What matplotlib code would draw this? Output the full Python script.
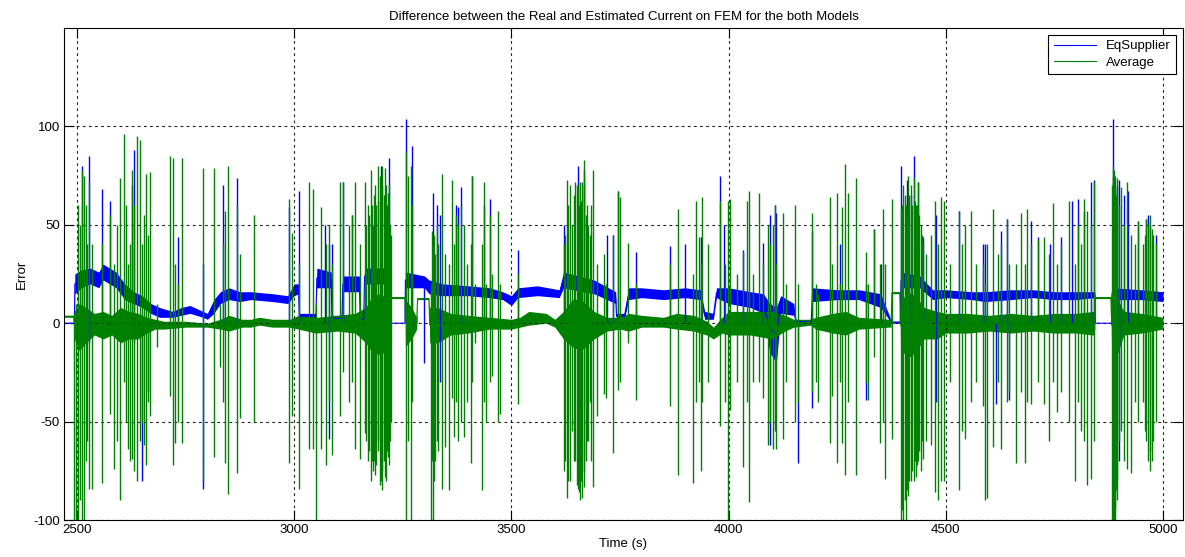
import numpy as np
import matplotlib.pyplot as plt
from matplotlib.lines import Line2D

##### data #####
# noisy band of each signal: (time, lower edge, upper edge)
eq_band = [
    (2470, 0, 0), (2494, 0, 0), (2495, 15, 25), (2510, 18, 27), (2530, 20, 28),
    (2550, 18, 26), (2560, 22, 30), (2575, 20, 28), (2590, 18, 26), (2610, 12, 20),
    (2630, 10, 16), (2650, 8, 14), (2670, 5, 10), (2690, 3, 8), (2720, 3, 6),
    (2740, 4, 8), (2760, 5, 9), (2790, 3, 6), (2800, 2, 5), (2815, 5, 12),
    (2830, 10, 16), (2850, 12, 18), (2875, 11, 16), (2900, 12, 16), (2950, 11, 15),
    (2985, 10, 14), (3000, 14, 20), (3010, 15, 20), (3012, 2, 5), (3050, 2, 5),
    (3052, 18, 28), (3085, 18, 26), (3087, 1, 4), (3110, 1, 4), (3112, 16, 24),
    (3150, 16, 24), (3152, 1, 3), (3160, 1, 3), (3162, 20, 28), (3222, 20, 28),
    (3223, 0, 0), (3255, 0, 0), (3256, 18, 26), (3300, 18, 24), (3310, 15, 22),
    (3340, 14, 20), (3400, 14, 19), (3450, 13, 18), (3480, 12, 16), (3500, 9, 14),
    (3515, 13, 18), (3560, 14, 19), (3610, 13, 17), (3620, 18, 26), (3690, 15, 22),
    (3740, 10, 16), (3742, 2, 5), (3760, 2, 5), (3770, 12, 18), (3800, 13, 18),
    (3850, 12, 17), (3900, 13, 18), (3935, 12, 17), (3945, 2, 6), (3965, 2, 5),
    (3972, 13, 18), (4000, 10, 18), (4050, 8, 16), (4080, 5, 15), (4095, -15, 10),
    (4110, -20, 8), (4120, 5, 14), (4150, 4, 10), (4155, 0, 2), (4190, 0, 1),
    (4193, 11, 18), (4250, 12, 17), (4300, 12, 17), (4350, 8, 15), (4375, 0, 1),
    (4395, 0, 1), (4397, 18, 26), (4440, 18, 24), (4470, 12, 17), (4500, 13, 17),
    (4560, 12, 16), (4590, 11, 16), (4650, 12, 17), (4700, 13, 17), (4750, 12, 16),
    (4800, 12, 16), (4843, 13, 16), (4844, 0, 0), (4882, 0, 0), (4883, 12, 18),
    (4950, 12, 17), (5000, 11, 16),
]

avg_band = [
    (2470, 3, 4), (2492, 3, 4), (2494, -8, 6), (2505, -14, 10), (2520, -10, 8),
    (2540, -6, 5), (2560, -8, 6), (2580, -6, 4), (2600, -10, 8), (2620, -8, 6),
    (2640, -8, 5), (2660, -5, 3), (2680, -3, 2), (2700, -3, 1), (2750, -2, 1),
    (2800, -2, 0), (2830, -3, 2), (2850, -4, 4), (2880, -2, 2), (2900, -2, 2),
    (2920, -1, 3), (2950, -2, 2), (2990, -2, 2), (3010, -3, 4), (3050, -5, 3),
    (3100, -4, 4), (3140, -5, 5), (3165, -10, 8), (3180, -15, 14), (3200, -16, 15),
    (3220, -12, 10), (3223, -6, 6), (3224, 12.5, 13.5), (3255, 12.5, 13.5),
    (3256, -12, 12), (3270, -8, 8), (3282, -3, 3), (3284, 12, 13), (3310, 12, 13),
    (3312, -10, 8), (3330, -10, 8), (3360, -6, 5), (3400, -5, 4), (3450, -3, 3),
    (3500, -3, 2), (3520, -2, 3), (3540, -1, 6), (3580, 0, 5), (3600, -2, 2),
    (3620, -8, 6), (3640, -12, 12), (3660, -14, 12), (3690, -8, 6), (3720, -4, 3),
    (3750, -3, 3), (3770, -4, 5), (3800, -2, 4), (3850, -2, 3), (3880, -3, 5),
    (3920, -4, 4), (3950, -6, 1), (3965, -8, -2), (3985, -5, 3), (4000, -6, 6),
    (4050, -6, 6), (4100, -8, 6), (4130, -4, 4), (4150, -2, 2), (4190, -1, 2),
    (4200, -3, 3), (4240, -5, 5), (4270, -6, 6), (4300, -3, 3), (4370, -2, 2),
    (4374, -2, 2), (4376, 15, 16), (4394, 15, 16), (4396, -12, 10), (4410, -18, 16),
    (4430, -15, 14), (4450, -8, 8), (4480, -8, 6), (4500, -5, 5), (4550, -5, 5),
    (4600, -4, 4), (4650, -5, 5), (4700, -4, 4), (4750, -5, 5), (4800, -5, 5),
    (4840, -6, 6), (4843, -3, 3), (4844, 12.5, 13.5), (4880, 12.5, 13.5),
    (4882, -20, 18), (4896, -15, 12), (4910, -6, 6), (4950, -5, 5), (5000, -3, 3),
]

# spikes: (time, min, max)
eq_spikes = [
    (2511, 0, 80), (2528, -10, 85), (2557, 0, 68), (2576, 0, 62), (2626, 0, 70),
    (2631, -10, 88), (2649, -80, 0), (2664, -35, 0), (2733, 0, 44), (2791, -84, 30),
    (2837, 0, 70), (2868, 0, 74), (2987, 0, 59), (3010, 0, 67), (3071, 0, 50),
    (3080, -59, 40), (3088, 0, 40), (3113, 0, 72), (3134, 0, 55), (3199, 0, 80),
    (3218, 0, 84), (3257, 0, 104), (3271, 0, 90), (3299, -20, 20), (3319, 0, 66),
    (3328, 0, 60), (3335, -30, 55), (3373, 0, 60), (3378, 0, 59), (3384, 0, 69),
    (3409, 0, 75), (3436, 0, 60), (3451, 0, 63), (3516, 0, 37), (3620, 0, 50),
    (3653, 0, 80), (3668, 0, 78), (3720, 0, 45), (3735, 0, 45), (3746, 0, 67),
    (3786, 0, 36), (3865, 0, 39), (3900, 0, 40), (3936, 0, 44), (3980, 0, 75),
    (3989, 0, 50), (4033, 0, 37), (4079, 0, 41), (4095, -62, 55), (4106, 0, 60),
    (4110, 0, 56), (4160, -71, 0), (4193, -43, 47), (4256, 0, 40), (4316, -39, 20),
    (4335, 0, 48), (4350, 0, 30), (4398, 0, 80), (4410, 0, 73), (4419, 0, 65),
    (4426, 0, 85), (4436, 0, 72), (4448, 0, 44), (4477, -40, 55), (4530, 0, 57),
    (4586, 0, 40), (4590, 0, 40), (4615, -41, 0), (4628, 0, 47), (4640, 0, 53),
    (4645, -39, 0), (4696, 0, 52), (4713, 0, 44), (4740, 0, 40), (4765, 0, 44),
    (4790, 0, 62), (4805, 0, 63), (4818, 0, 57), (4835, 0, 72), (4840, 0, 73),
    (4884, 0, 104), (4893, 0, 69), (4898, -70, 73), (4910, 0, 65), (4920, 0, 67),
    (4943, 0, 52), (4962, 0, 53), (4966, 0, 55), (4985, 0, 45),
]

avg_spikes = [
    (2493, -100, 5), (2498, -100, 10), (2503, -100, 60), (2506, -90, 50),
    (2511, -100, 78), (2515, -100, 75), (2520, -70, 60), (2524, -60, 40),
    (2528, -84, 72), (2534, -84, 40), (2557, -81, 40), (2576, -46, 55),
    (2584, -74, 30), (2592, -60, 50), (2599, -90, 74), (2607, -30, 96),
    (2612, -50, 60), (2618, -64, 30), (2622, -70, 40), (2626, -69, 78),
    (2632, -75, 60), (2639, -80, 95), (2645, -60, 93), (2650, -50, 40),
    (2654, -62, 55), (2659, -72, 76), (2663, -40, 45), (2668, -47, 77),
    (2683, -12, 10), (2713, -37, 85), (2722, -72, 84), (2726, -61, 30),
    (2733, -50, 20), (2741, -61, 84), (2791, -80, 79), (2815, -68, 79),
    (2829, -22, 10), (2837, -40, 40), (2841, -71, 57), (2848, -87, 80),
    (2868, -76, 60), (2875, -48, 35), (2908, -50, 55), (2987, -71, 63),
    (2994, -47, 46), (3010, -84, 30), (3033, -64, 72), (3043, -64, 68),
    (3050, -100, 10), (3062, -64, 59), (3073, -72, 40), (3080, -40, 50),
    (3088, -67, 30), (3106, -47, 72), (3113, -25, 72), (3127, -40, 50),
    (3134, -30, 55), (3140, -64, 72), (3152, -69, 40), (3163, -56, 72),
    (3166, -60, 50), (3170, -70, 60), (3173, -65, 55), (3176, -80, 78),
    (3179, -70, 60), (3182, -75, 50), (3184, -70, 65), (3186, -77, 70),
    (3189, -72, 60), (3192, -60, 80), (3194, -65, 62), (3197, -82, 75),
    (3199, -80, 70), (3201, -85, 80), (3203, -75, 70), (3206, -70, 65),
    (3208, -70, 60), (3210, -78, 79), (3212, -80, 70), (3214, -65, 60),
    (3216, -68, 66), (3218, -72, 70), (3220, -60, 50), (3222, -50, 45),
    (3257, -100, 87), (3263, -60, 75), (3268, -100, 80), (3271, -40, 60),
    (3315, -100, 20), (3317, -70, 47), (3319, -100, 40), (3322, -80, 45),
    (3325, -70, 35), (3328, -60, 50), (3331, -65, 40), (3340, -84, 76),
    (3348, -63, 35), (3357, -85, 30), (3363, -38, 73), (3368, -58, 40),
    (3373, -40, 55), (3378, -60, 50), (3384, -50, 60), (3390, -58, 50),
    (3397, -40, 30), (3407, -71, 40), (3409, -30, 75), (3417, -10, 20),
    (3433, -85, 40), (3436, -40, 72), (3442, -50, 20), (3451, -30, 55),
    (3455, -27, 25), (3470, -50, 57), (3474, -46, 20), (3516, -41, 25),
    (3620, -75, 40), (3623, -70, 45), (3627, -89, 73), (3630, -80, 60),
    (3635, -80, 70), (3640, -55, 50), (3644, -70, 65), (3647, -70, 72),
    (3650, -82, 70), (3653, -84, 70), (3656, -86, 60), (3658, -90, 72),
    (3661, -80, 62), (3663, -89, 72), (3666, -75, 70), (3668, -83, 83),
    (3671, -70, 55), (3674, -60, 60), (3677, -60, 50), (3680, -40, 45),
    (3684, -70, 60), (3687, -83, 78), (3697, -47, 30), (3712, -36, 35),
    (3718, -38, 20), (3735, -66, 45), (3746, -34, 67), (3749, -30, 64),
    (3769, -10, 41), (3786, -39, 20), (3865, -42, 30), (3884, -77, 58),
    (3918, -81, 25), (3924, -40, 62), (3932, -30, 44), (3936, -75, 30),
    (3939, -40, 64), (3953, -30, 40), (3980, -52, 62), (3992, -40, 30),
    (3999, -100, 62), (4003, -44, 63), (4020, -30, 25), (4033, -73, 36),
    (4043, -40, 62), (4046, -91, 67), (4055, -30, 25), (4070, -30, 66),
    (4079, -38, 30), (4090, -62, 50), (4095, -50, 40), (4102, -64, 50),
    (4106, -55, 60), (4110, -64, 30), (4125, -59, 56), (4133, -30, 20),
    (4152, -50, 60), (4160, -40, 20), (4192, -35, 56), (4201, -30, 20),
    (4206, -40, 15), (4233, -61, 64), (4237, -37, 30), (4250, -71, 66),
    (4256, -30, 20), (4262, -61, 59), (4269, -77, 81), (4275, -40, 66),
    (4293, -77, 74), (4316, -30, 36), (4320, -39, 20), (4335, -17, 48),
    (4348, -61, 30), (4356, -50, 58), (4360, -79, 30), (4377, -59, 63),
    (4398, -100, 58), (4400, -95, 60), (4402, -100, 70), (4405, -90, 65),
    (4408, -100, 60), (4410, -85, 55), (4413, -88, 75), (4416, -80, 65),
    (4420, -80, 70), (4423, -75, 60), (4426, -80, 74), (4429, -70, 62),
    (4431, -78, 60), (4434, -72, 60), (4436, -70, 72), (4439, -65, 55),
    (4442, -75, 50), (4445, -60, 45), (4448, -69, 40), (4455, -60, 35),
    (4465, -62, 45), (4475, -86, 62), (4482, -90, 40), (4490, -80, 64),
    (4495, -80, 62), (4510, -30, 30), (4530, -85, 57), (4537, -55, 40),
    (4545, -59, 50), (4557, -40, 57), (4570, -30, 30), (4586, -42, 30),
    (4591, -90, 20), (4594, -89, 40), (4609, -63, 58), (4620, -30, 35),
    (4628, -64, 40), (4640, -40, 53), (4646, -35, 30), (4661, -71, 30),
    (4674, -35, 56), (4682, -71, 30), (4686, -40, 58), (4696, -41, 40),
    (4713, -30, 43), (4727, -41, 44), (4738, -60, 35), (4747, -30, 61),
    (4756, -45, 30), (4765, -35, 40), (4783, -50, 62), (4797, -80, 30),
    (4805, -40, 50), (4811, -55, 40), (4818, -60, 63), (4824, -82, 57),
    (4835, -79, 50), (4840, -60, 72), (4883, -100, 70), (4885, -100, 80),
    (4886, -100, 75), (4887, -100, 78), (4889, -95, 70), (4890, -100, 75),
    (4892, -85, 65), (4893, -90, 74), (4895, -80, 60), (4898, -60, 60),
    (4903, -55, 69), (4910, -70, 50), (4918, -74, 72), (4927, -76, 45),
    (4935, -40, 40), (4943, -50, 52), (4955, -40, 40), (4958, -55, 45),
    (4962, -60, 53), (4966, -70, 50), (4969, -65, 50), (4971, -75, 55),
    (4974, -70, 48), (4976, -60, 45), (4985, -50, 40),
]

x_ticks = [2500, 3000, 3500, 4000, 4500, 5000]
y_ticks = [-100, -50, 0, 50, 100]

BLUE = '#0000ff'
GREEN = '#008000'

##### figure #####
plt.rcParams['font.family'] = ['Liberation Sans', 'DejaVu Sans']
plt.rcParams['axes.unicode_minus'] = False
fig = plt.figure(figsize=(11.85, 5.57), dpi=100)
ax = fig.add_axes([0.054, 0.0664, 0.9443, 0.8833])


def draw(band, spikes, color):
    b = np.array(band, dtype=float)
    s = np.array(spikes, dtype=float)
    ax.fill_between(b[:, 0], b[:, 1], b[:, 2], color=color, lw=0)
    ax.plot(b[:, 0], (b[:, 1] + b[:, 2]) / 2, color=color, lw=0.8)
    ax.vlines(s[:, 0], s[:, 1], s[:, 2], color=color, lw=1.0)


draw(eq_band, eq_spikes, BLUE)
draw(avg_band, avg_spikes, GREEN)

ax.set_xlim(2470, 5046)
ax.set_ylim(-100, 150)
ax.set_xticks(x_ticks)
ax.set_yticks(y_ticks)
ax.tick_params(direction='in', length=7.5, width=0.8, top=True, right=True,
               labelsize=9.5, pad=3)
ax.grid(True, color='#222222', linestyle=(0, (2.5, 3)), lw=0.8)
for sp in ax.spines.values():
    sp.set_linewidth(0.8)

ax.set_title('Difference between the Real and Estimated Current on FEM for the both Models',
             fontsize=9.5, pad=6)
ax.set_xlabel('Time (s)', fontsize=9.5, labelpad=1)
ax.set_ylabel('Error', fontsize=9.5, labelpad=4)

handles = [Line2D([], [], color=BLUE, lw=0.8), Line2D([], [], color=GREEN, lw=0.8)]
leg = ax.legend(handles, ['EqSupplier', 'Average'], loc='upper right', fontsize=9.5,
                fancybox=False, framealpha=1, edgecolor='black', handlelength=3.2,
                borderaxespad=0.5, borderpad=0.4, labelspacing=0.35)
leg.get_frame().set_linewidth(0.8)

fig.savefig('out.png', dpi=100)
